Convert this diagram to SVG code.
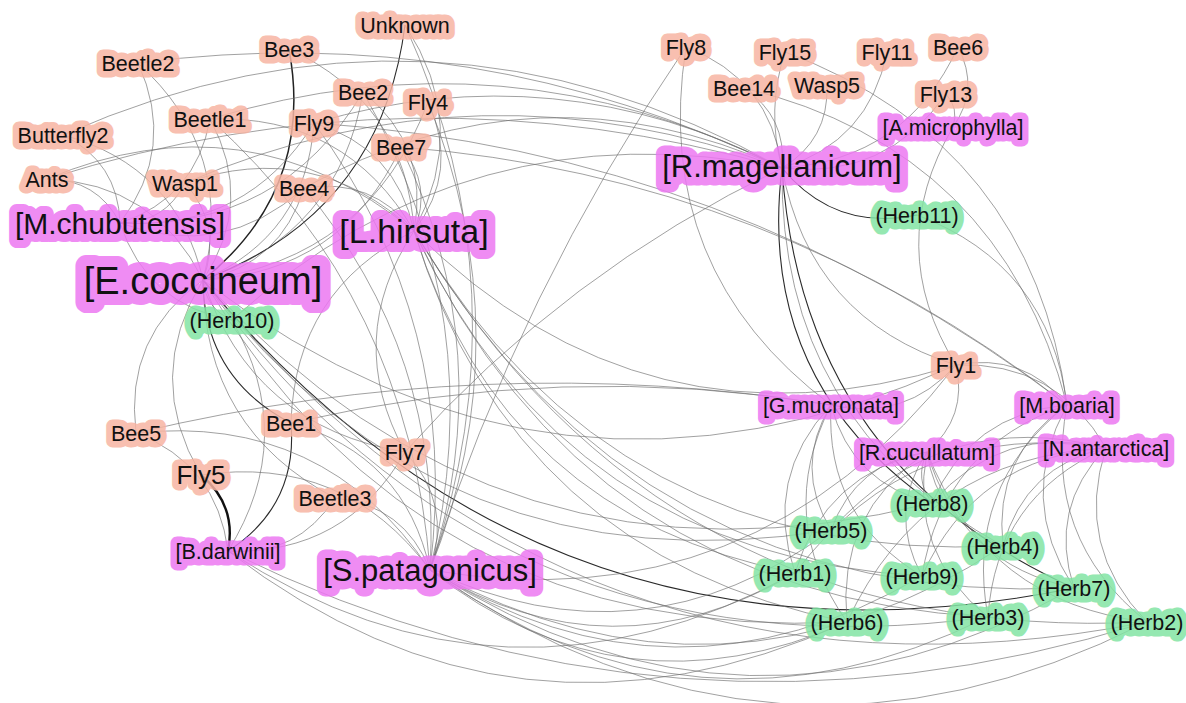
<svg xmlns="http://www.w3.org/2000/svg" width="1186" height="703" viewBox="0 0 1186 703">
<style>
text{font-family:"Liberation Sans",Arial,sans-serif;text-anchor:middle;}
.t{fill:#111;}
.g{stroke-linejoin:round;stroke-linecap:round;opacity:.85;}
.p text{font-size:21.5px;}
.h text{font-size:21.5px;}
.p .g{fill:#f7b5a3;stroke:#f7b5a3;stroke-width:13px;}
.h .g{fill:#83e4a4;stroke:#83e4a4;stroke-width:13px;}
.pl .g{fill:#ed78f2;stroke:#ed78f2;stroke-width:13px;}
#edges path{fill:none;stroke:#6e6e6e;stroke-width:.65;}
#edges path.d{stroke:#2a2a2a;stroke-width:1.1;}
#edges path.k{stroke:#111;stroke-width:2.4;}
#edges path.m{stroke:#222;stroke-width:1.5;}
</style>
<rect width="1186" height="703" fill="#fff"/>
<g id="edges">
<path class="m" d="M203 280 Q315 190 289 49"/>
<path d="M203 280 Q339 234 363 92"/>
<path class="d" d="M203 280 Q381 213 405 25"/>
<path d="M203 280 Q306 235 314 123"/>
<path d="M203 280 Q281 264 304 188"/>
<path d="M203 280 Q255 202 210 119"/>
<path d="M203 280 Q236 152 138 63"/>
<path d="M203 280 Q223 226 185 183"/>
<path d="M203 280 Q155 183 47 179"/>
<path d="M203 280 Q177 166 63 135"/>
<path d="M203 280 Q342 273 401 147"/>
<path d="M203 280 Q369 259 428 102"/>
<path d="M203 280 Q124 336 136 433"/>
<path class="d" d="M203 280 Q204 378 291 423"/>
<path d="M203 280 Q143 377 201 475"/>
<path d="M203 280 Q204 429 335 498"/>
<path d="M203 280 Q252 427 405 452"/>
<path d="M203 280 Q206 309 232 320"/>
<path d="M203 280 Q422 644 847 622"/>
<path d="M203 280 Q572 734 1147 622"/>
<path d="M203 280 Q494 684 988 617"/>
<path class="d" d="M203 280 Q546 695 1074 588"/>
<path d="M203 280 Q442 593 831 530"/>
<path d="M203 280 Q554 548 956 365"/>
<path d="M203 280 Q501 610 932 503"/>
<path d="M120 223 Q97 179 47 179"/>
<path d="M120 223 Q165 223 185 183"/>
<path d="M120 223 Q196 198 210 119"/>
<path d="M120 223 Q118 162 63 135"/>
<path d="M120 223 Q247 231 314 123"/>
<path d="M120 223 Q281 230 363 92"/>
<path d="M120 223 Q177 148 138 63"/>
<path d="M120 223 Q147 305 232 320"/>
<path d="M120 223 Q223 261 304 188"/>
<path d="M414 231 Q471 125 405 25"/>
<path d="M414 231 Q406 103 289 49"/>
<path d="M414 231 Q430 146 363 92"/>
<path d="M414 231 Q460 171 428 102"/>
<path d="M414 231 Q396 147 314 123"/>
<path d="M414 231 Q433 185 401 147"/>
<path d="M414 231 Q372 177 304 188"/>
<path d="M414 231 Q314 138 185 183"/>
<path d="M414 231 Q246 95 47 179"/>
<path d="M414 231 Q346 114 210 119"/>
<path d="M414 231 Q343 339 405 452"/>
<path d="M414 231 Q295 290 291 423"/>
<path d="M414 231 Q645 461 956 365"/>
<path d="M414 231 Q663 646 1147 622"/>
<path d="M414 231 Q513 556 847 622"/>
<path d="M414 231 Q585 596 988 617"/>
<path d="M414 231 Q565 556 922 576"/>
<path d="M414 231 Q502 516 795 573"/>
<path d="M414 231 Q637 608 1074 588"/>
<path d="M414 231 Q614 565 1003 546"/>
<path d="M782 168 Q431 -28 63 135"/>
<path d="M782 168 Q476 19 138 63"/>
<path d="M782 168 Q506 29 210 119"/>
<path d="M782 168 Q413 63 47 179"/>
<path d="M782 168 Q480 56 185 183"/>
<path d="M782 168 Q469 106 232 320"/>
<path d="M782 168 Q538 58 304 188"/>
<path d="M782 168 Q557 52 314 123"/>
<path d="M782 168 Q770 79 686 47"/>
<path d="M782 168 Q766 110 785 52"/>
<path d="M782 168 Q869 142 887 52"/>
<path d="M782 168 Q906 160 958 47"/>
<path d="M782 168 Q787 117 744 88"/>
<path d="M782 168 Q829 140 827 85"/>
<path d="M782 168 Q886 180 946 94"/>
<path d="M782 168 Q565 272 405 452"/>
<path class="d" d="M782 168 Q835 232 917 215"/>
<path class="d" d="M782 168 Q756 380 932 503"/>
<path class="d" d="M782 168 Q802 466 1074 588"/>
<path d="M782 168 Q779 423 1003 546"/>
<path d="M782 168 Q810 319 956 365"/>
<path d="M953 127 Q980 89 958 47"/>
<path d="M953 127 Q959 108 946 94"/>
<path d="M953 127 Q883 247 956 365"/>
<path d="M831 405 Q905 422 956 365"/>
<path d="M831 405 Q793 467 831 530"/>
<path d="M831 405 Q763 478 795 573"/>
<path d="M831 405 Q774 518 847 622"/>
<path d="M831 405 Q825 518 922 576"/>
<path d="M831 405 Q563 360 291 423"/>
<path d="M831 405 Q486 350 136 433"/>
<path d="M831 405 Q852 484 932 503"/>
<path d="M686 47 Q651 270 831 405"/>
<path d="M1067 405 Q1024 352 956 365"/>
<path d="M1067 405 Q993 456 1003 546"/>
<path d="M1067 405 Q1016 499 1074 588"/>
<path d="M1067 405 Q1042 538 1147 622"/>
<path d="M1067 405 Q970 414 932 503"/>
<path d="M1067 405 Q943 447 922 576"/>
<path d="M1067 405 Q964 487 988 617"/>
<path d="M1067 405 Q1001 150 744 88"/>
<path d="M1067 405 Q1032 144 785 52"/>
<path d="M1067 405 Q1049 265 917 215"/>
<path d="M1067 405 Q773 176 401 147"/>
<path d="M1067 405 Q733 151 314 123"/>
<path d="M927 452 Q968 417 956 365"/>
<path d="M927 452 Q914 479 932 503"/>
<path d="M927 452 Q856 462 831 530"/>
<path d="M927 452 Q937 522 1003 546"/>
<path d="M927 452 Q887 512 922 576"/>
<path d="M927 452 Q825 473 795 573"/>
<path d="M927 452 Q836 513 847 622"/>
<path d="M927 452 Q908 553 988 617"/>
<path d="M927 452 Q960 564 1074 588"/>
<path d="M927 452 Q986 603 1147 622"/>
<path d="M1106 448 Q1056 361 956 365"/>
<path d="M1106 448 Q1002 423 932 503"/>
<path d="M1106 448 Q1025 466 1003 546"/>
<path d="M1106 448 Q1048 508 1074 588"/>
<path d="M1106 448 Q1074 547 1147 622"/>
<path d="M1106 448 Q996 497 988 617"/>
<path d="M1106 448 Q924 457 847 622"/>
<path d="M1106 448 Q976 457 922 576"/>
<path d="M1106 448 Q944 406 831 530"/>
<path d="M1106 448 Q913 417 795 573"/>
<path class="k" d="M228 551 Q237 505 201 475"/>
<path class="d" d="M228 551 Q298 506 291 423"/>
<path d="M228 551 Q217 464 136 433"/>
<path d="M228 551 Q297 557 335 498"/>
<path d="M228 551 Q299 437 232 320"/>
<path d="M228 551 Q516 772 847 622"/>
<path d="M228 551 Q673 770 1147 622"/>
<path d="M228 551 Q505 732 795 573"/>
<path d="M228 551 Q346 555 405 452"/>
<path d="M430 570 Q453 503 405 452"/>
<path d="M430 570 Q500 353 401 147"/>
<path d="M430 570 Q523 336 428 102"/>
<path d="M430 570 Q492 318 363 92"/>
<path d="M430 570 Q461 323 314 123"/>
<path d="M430 570 Q443 354 304 188"/>
<path d="M430 570 Q410 300 210 119"/>
<path d="M430 570 Q526 292 405 25"/>
<path d="M430 570 Q404 505 335 498"/>
<path d="M430 570 Q405 455 291 423"/>
<path d="M430 570 Q324 413 136 433"/>
<path d="M430 570 Q344 454 201 475"/>
<path d="M430 570 Q520 290 686 47"/>
<path d="M430 570 Q612 681 795 573"/>
<path d="M430 570 Q623 721 847 622"/>
<path d="M430 570 Q695 761 988 617"/>
<path d="M430 570 Q773 811 1147 622"/>
<path d="M430 570 Q747 772 1074 588"/>
<path d="M430 570 Q674 721 922 576"/>
<path d="M430 570 Q642 670 831 530"/>
<path d="M430 570 Q724 730 1003 546"/>
<path d="M430 570 Q754 625 956 365"/>
</g>
<g id="nodes">
<g id="n-Unknown" class="p"><text class="g" x="405" y="33">Unknown</text><text class="t" x="405" y="33">Unknown</text></g>
<g id="n-Bee3" class="p"><text class="g" x="289" y="57">Bee3</text><text class="t" x="289" y="57">Bee3</text></g>
<g id="n-Beetle2" class="p"><text class="g" x="138" y="71">Beetle2</text><text class="t" x="138" y="71">Beetle2</text></g>
<g id="n-Bee2" class="p"><text class="g" x="363" y="100">Bee2</text><text class="t" x="363" y="100">Bee2</text></g>
<g id="n-Fly4" class="p"><text class="g" x="428" y="110">Fly4</text><text class="t" x="428" y="110">Fly4</text></g>
<g id="n-Beetle1" class="p"><text class="g" x="210" y="127">Beetle1</text><text class="t" x="210" y="127">Beetle1</text></g>
<g id="n-Fly9" class="p"><text class="g" x="314" y="131">Fly9</text><text class="t" x="314" y="131">Fly9</text></g>
<g id="n-Butterfly2" class="p"><text class="g" x="63" y="143">Butterfly2</text><text class="t" x="63" y="143">Butterfly2</text></g>
<g id="n-Bee7" class="p"><text class="g" x="401" y="155">Bee7</text><text class="t" x="401" y="155">Bee7</text></g>
<g id="n-Ants" class="p"><text class="g" x="47" y="187">Ants</text><text class="t" x="47" y="187">Ants</text></g>
<g id="n-Wasp1" class="p"><text class="g" x="185" y="191">Wasp1</text><text class="t" x="185" y="191">Wasp1</text></g>
<g id="n-Bee4" class="p"><text class="g" x="304" y="196">Bee4</text><text class="t" x="304" y="196">Bee4</text></g>
<g id="n-Fly8" class="p"><text class="g" x="686" y="55">Fly8</text><text class="t" x="686" y="55">Fly8</text></g>
<g id="n-Fly15" class="p"><text class="g" x="785" y="60">Fly15</text><text class="t" x="785" y="60">Fly15</text></g>
<g id="n-Fly11" class="p"><text class="g" x="887" y="60">Fly11</text><text class="t" x="887" y="60">Fly11</text></g>
<g id="n-Bee6" class="p"><text class="g" x="958" y="55">Bee6</text><text class="t" x="958" y="55">Bee6</text></g>
<g id="n-Bee14" class="p"><text class="g" x="744" y="96">Bee14</text><text class="t" x="744" y="96">Bee14</text></g>
<g id="n-Wasp5" class="p"><text class="g" x="827" y="93">Wasp5</text><text class="t" x="827" y="93">Wasp5</text></g>
<g id="n-Fly13" class="p"><text class="g" x="946" y="102">Fly13</text><text class="t" x="946" y="102">Fly13</text></g>
<g id="n-Fly1" class="p"><text class="g" x="956" y="373">Fly1</text><text class="t" x="956" y="373">Fly1</text></g>
<g id="n-Bee5" class="p"><text class="g" x="136" y="441">Bee5</text><text class="t" x="136" y="441">Bee5</text></g>
<g id="n-Bee1" class="p"><text class="g" x="291" y="431">Bee1</text><text class="t" x="291" y="431">Bee1</text></g>
<g id="n-Fly7" class="p"><text class="g" x="405" y="460">Fly7</text><text class="t" x="405" y="460">Fly7</text></g>
<g id="n-Fly5" class="p"><text class="g" x="201" y="484" style="font-size:26px">Fly5</text><text class="t" x="201" y="484" style="font-size:26px">Fly5</text></g>
<g id="n-Beetle3" class="p"><text class="g" x="335" y="506">Beetle3</text><text class="t" x="335" y="506">Beetle3</text></g>

<g id="n-M.chubutensis" class="pl" style="font-size:30px"><text class="g" x="120" y="234" style="stroke-width:16px">[M.chubutensis]</text><text class="t" x="120" y="234">[M.chubutensis]</text></g>
<g id="n-E.coccineum" class="pl" style="font-size:38px"><text class="g" x="203" y="294" style="stroke-width:22px">[E.coccineum]</text><text class="t" x="203" y="294">[E.coccineum]</text></g>
<g id="n-L.hirsuta" class="pl" style="font-size:34px"><text class="g" x="414" y="243" style="stroke-width:18px">[L.hirsuta]</text><text class="t" x="414" y="243">[L.hirsuta]</text></g>
<g id="n-R.magellanicum" class="pl" style="font-size:31px"><text class="g" x="782" y="177" style="stroke-width:17px">[R.magellanicum]</text><text class="t" x="782" y="177">[R.magellanicum]</text></g>
<g id="n-A.microphylla" class="pl" style="font-size:21.5px"><text class="g" x="953" y="135">[A.microphylla]</text><text class="t" x="953" y="135">[A.microphylla]</text></g>
<g id="n-G.mucronata" class="pl" style="font-size:21.5px"><text class="g" x="831" y="413">[G.mucronata]</text><text class="t" x="831" y="413">[G.mucronata]</text></g>
<g id="n-M.boaria" class="pl" style="font-size:21.5px"><text class="g" x="1067" y="413">[M.boaria]</text><text class="t" x="1067" y="413">[M.boaria]</text></g>
<g id="n-R.cucullatum" class="pl" style="font-size:21.5px"><text class="g" x="927" y="460">[R.cucullatum]</text><text class="t" x="927" y="460">[R.cucullatum]</text></g>
<g id="n-N.antarctica" class="pl" style="font-size:21.5px"><text class="g" x="1106" y="456">[N.antarctica]</text><text class="t" x="1106" y="456">[N.antarctica]</text></g>
<g id="n-B.darwinii" class="pl" style="font-size:21.5px"><text class="g" x="228" y="559">[B.darwinii]</text><text class="t" x="228" y="559">[B.darwinii]</text></g>
<g id="n-S.patagonicus" class="pl" style="font-size:31px"><text class="g" x="430" y="581" style="stroke-width:17px">[S.patagonicus]</text><text class="t" x="430" y="581">[S.patagonicus]</text></g>

<g id="n-Herb11" class="h"><text class="g" x="917" y="223">(Herb11)</text><text class="t" x="917" y="223">(Herb11)</text></g>
<g id="n-Herb10" class="h"><text class="g" x="232" y="328">(Herb10)</text><text class="t" x="232" y="328">(Herb10)</text></g>
<g id="n-Herb8" class="h"><text class="g" x="932" y="511">(Herb8)</text><text class="t" x="932" y="511">(Herb8)</text></g>
<g id="n-Herb5" class="h"><text class="g" x="831" y="538">(Herb5)</text><text class="t" x="831" y="538">(Herb5)</text></g>
<g id="n-Herb4" class="h"><text class="g" x="1003" y="554">(Herb4)</text><text class="t" x="1003" y="554">(Herb4)</text></g>
<g id="n-Herb1" class="h"><text class="g" x="795" y="581">(Herb1)</text><text class="t" x="795" y="581">(Herb1)</text></g>
<g id="n-Herb9" class="h"><text class="g" x="922" y="584">(Herb9)</text><text class="t" x="922" y="584">(Herb9)</text></g>
<g id="n-Herb7" class="h"><text class="g" x="1074" y="596">(Herb7)</text><text class="t" x="1074" y="596">(Herb7)</text></g>
<g id="n-Herb3" class="h"><text class="g" x="988" y="625">(Herb3)</text><text class="t" x="988" y="625">(Herb3)</text></g>
<g id="n-Herb6" class="h"><text class="g" x="847" y="630">(Herb6)</text><text class="t" x="847" y="630">(Herb6)</text></g>
<g id="n-Herb2" class="h"><text class="g" x="1147" y="630">(Herb2)</text><text class="t" x="1147" y="630">(Herb2)</text></g>
</g>
</svg>
